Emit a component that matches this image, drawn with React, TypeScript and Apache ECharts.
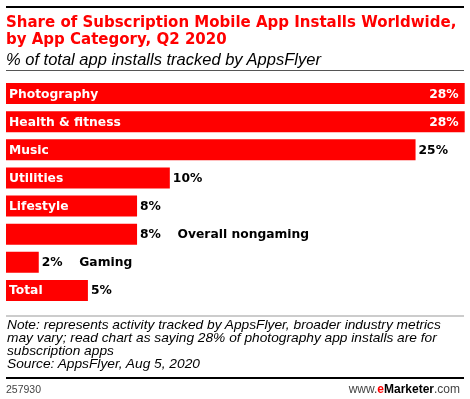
import React, { useEffect, useRef } from "react";
import * as echarts from "echarts";

const categories = ["Photography", "Health & fitness", "Music", "Utilities", "Lifestyle", "Overall nongaming", "Gaming", "Total"];
const values = [28, 28, 25, 10, 8, 8, 2, 5];
const insideValueCats = ["Photography", "Health & fitness"];
const outsideNameCats = ["Overall nongaming", "Gaming"];

const titleLines = ["Share of Subscription Mobile App Installs Worldwide,", "by App Category, Q2 2020"];
const subtitle = "% of total app installs tracked by AppsFlyer";
const noteLines = [
  "Note: represents activity tracked by AppsFlyer, broader industry metrics",
  "may vary; read chart as saying 28% of photography app installs are for",
  "subscription apps",
  "Source: AppsFlyer, Aug 5, 2020",
];
const chartId = "257930";

const RED = "#ff0000";
const LABEL_FONT = "DejaVu Sans";
const LS = 12.3;

export default function App() {
  const ref = useRef<HTMLDivElement>(null);
  useEffect(() => {
    if (!ref.current) return;
    const chart = echarts.init(ref.current, null, { renderer: "svg" });

    const nameData = categories.map((c, i) => ({
      value: values[i],
      label: { show: !outsideNameCats.includes(c) },
    }));
    const valueData = categories.map((c, i) => {
      const inside = insideValueCats.includes(c);
      const withName = outsideNameCats.includes(c);
      return {
        value: values[i],
        label: {
          position: inside ? "insideRight" : "right",
          distance: inside ? 6 : 3,
          color: inside ? "#fff" : "#000",
          formatter: withName ? `{v|${values[i]}%}{n|${c}}` : `${values[i]}%`,
        },
      };
    });

    chart.setOption({
      animation: false,
      grid: { left: 6, right: 5.3, top: 79.5, height: 225, containLabel: false },
      xAxis: { type: "value", min: 0, max: 28, show: false },
      yAxis: { type: "category", data: categories, inverse: true, show: false },
      series: [
        {
          type: "bar",
          data: nameData,
          barWidth: "75%",
          itemStyle: { color: RED },
          label: {
            show: true,
            position: "insideLeft",
            distance: 3,
            formatter: "{b}",
            color: "#fff",
            fontFamily: LABEL_FONT,
            fontWeight: "bold",
            fontSize: LS,
          },
          z: 2,
        },
        {
          type: "bar",
          data: valueData,
          barWidth: "75%",
          barGap: "-100%",
          itemStyle: { color: "rgba(0,0,0,0)" },
          label: {
            show: true,
            fontFamily: LABEL_FONT,
            fontWeight: "bold",
            fontSize: LS,
            rich: {
              v: { width: 37.5, fontFamily: LABEL_FONT, fontWeight: "bold", fontSize: LS, color: "#000" },
              n: { fontFamily: LABEL_FONT, fontWeight: "bold", fontSize: LS, color: "#000" },
            },
          },
          z: 3,
        },
      ],
      graphic: [
        { type: "rect", shape: { x: 6, y: 6, width: 458, height: 2 }, style: { fill: "#000" } },
        ...titleLines.map((t, i) => ({
          type: "text",
          x: 6,
          y: i === 0 ? 21.5 : 38.5,
          style: { text: t, fill: RED, font: `bold 15px "${LABEL_FONT}"`, verticalAlign: "middle" },
        })),
        {
          type: "text",
          x: 6,
          y: 59,
          style: { text: subtitle, fill: "#000", font: 'italic 16.5px "Liberation Sans"', verticalAlign: "middle" },
        },
        { type: "rect", shape: { x: 6, y: 70, width: 458, height: 1 }, style: { fill: "#555" } },
        { type: "rect", shape: { x: 6, y: 315.5, width: 458, height: 1 }, style: { fill: "#999" } },
        ...noteLines.map((t, i) => ({
          type: "text",
          x: 7,
          y: 325 + i * 13,
          scaleX: 1.1,
          style: { text: t, fill: "#000", font: 'italic 12.5px "Liberation Sans"', verticalAlign: "middle" },
        })),
        { type: "rect", shape: { x: 6, y: 377, width: 458, height: 2 }, style: { fill: "#000" } },
        {
          type: "text",
          x: 6,
          y: 388.5,
          style: { text: chartId, fill: "#444", font: '10.5px "Liberation Sans"', verticalAlign: "middle" },
        },
        {
          type: "text",
          x: 460,
          y: 388.5,
          style: {
            text: "{a|www.}{e|e}{m|Marketer}{a|.com}",
            align: "right",
            verticalAlign: "middle",
            rich: {
              a: { fill: "#444", font: '12px "Liberation Sans"' },
              e: { fill: RED, font: 'bold 12px "Liberation Sans"' },
              m: { fill: "#000", font: 'bold 12px "Liberation Sans"' },
            },
          },
        },
      ],
    });
    return () => chart.dispose();
  }, []);
  return <div ref={ref} style={{ position: "fixed", left: 0, top: 0, width: 470, height: 399 }} />;
}
